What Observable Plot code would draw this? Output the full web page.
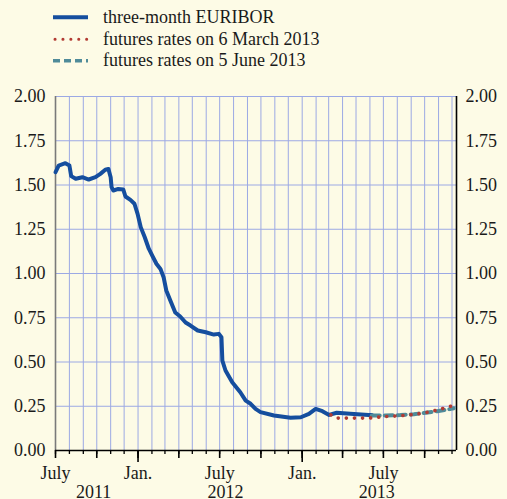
<!DOCTYPE html>
<html><head><meta charset="utf-8">
<script src="https://cdn.jsdelivr.net/npm/d3@7"></script>
<script src="https://cdn.jsdelivr.net/npm/@observablehq/plot@0.6"></script>
<style>
html,body{margin:0;padding:0;background:#fdfbe6;}
body{width:507px;height:499px;overflow:hidden;}
svg{display:block;}
</style>
</head><body>
<div id="legend"></div>
<div id="chart"></div>
<script>
// ---- data ----
const euriborDates = ["2011-07-01","2011-07-08","2011-07-23","2011-08-01","2011-08-05","2011-08-15","2011-08-30","2011-09-13","2011-09-28","2011-10-09","2011-10-20","2011-10-27","2011-11-01","2011-11-03","2011-11-07","2011-11-18","2011-11-29","2011-12-04","2011-12-15","2011-12-24","2011-12-31","2012-01-07","2012-01-16","2012-01-25","2012-02-02","2012-02-11","2012-02-20","2012-02-27","2012-03-04","2012-03-13","2012-03-24","2012-04-04","2012-04-16","2012-04-27","2012-05-13","2012-05-31","2012-06-18","2012-06-29","2012-07-05","2012-07-07","2012-07-14","2012-07-29","2012-08-16","2012-08-28","2012-09-08","2012-09-19","2012-09-30","2012-10-30","2012-12-06","2012-12-29","2013-01-16","2013-01-31","2013-02-15","2013-03-02","2013-03-19","2013-04-18","2013-05-29","2013-06-05"];
const euriborValues = [1.572,1.61,1.623,1.61,1.55,1.535,1.544,1.531,1.544,1.563,1.586,1.59,1.544,1.488,1.469,1.478,1.475,1.435,1.416,1.394,1.337,1.262,1.205,1.14,1.10,1.055,1.026,0.979,0.904,0.847,0.78,0.757,0.723,0.706,0.678,0.668,0.655,0.659,0.64,0.508,0.452,0.385,0.329,0.282,0.264,0.235,0.217,0.198,0.185,0.188,0.207,0.235,0.222,0.201,0.213,0.207,0.201,0.20];

const marchDates = ["2013-03-06","2013-03-19","2013-04-06","2013-04-23","2013-05-11","2013-05-29","2013-06-17","2013-07-06","2013-08-08","2013-08-27","2013-09-15","2013-10-02","2013-10-18","2013-11-04","2013-11-21","2013-12-04"];
const marchValues = [0.201,0.183,0.183,0.183,0.183,0.183,0.188,0.192,0.196,0.201,0.207,0.213,0.222,0.232,0.245,0.254];

const juneDates = ["2013-06-05","2013-07-06","2013-08-08","2013-09-07","2013-10-03","2013-10-29","2013-11-28","2013-12-05"];
const juneValues = [0.198,0.198,0.200,0.205,0.213,0.222,0.235,0.239];

const seriesNames = ["three-month EURIBOR","futures rates on 6 March 2013","futures rates on 5 June 2013"];
const yTicks = [0,0.25,0.5,0.75,1,1.25,1.5,1.75,2];
const monthLabelDates = ["2011-07-01","2012-01-01","2012-07-01","2013-01-01","2013-07-01"];
const monthLabelTexts = ["July","Jan.","July","Jan.","July"];
const yearLabelDates = ["2011-09-24","2012-07-14","2013-06-16"];
const yearLabelTexts = ["2011","2012","2013"];

// ---- styles ----
const BLUE = "#154e9e", RED = "#b23a32", TEAL = "#4f8b99", GRID = "#9ca9e4", TXT = "#1a1a1a";
const FONT = "Liberation Serif, Times New Roman, serif";

const parse = d3.utcParse("%Y-%m-%d");
const mk = (ds, vs) => ds.map((d, i) => ({date: parse(d), value: vs[i]}));
const euribor = mk(euriborDates, euriborValues);
const march = mk(marchDates, marchValues);
const june = mk(juneDates, juneValues);
const monthLabels = monthLabelDates.map((d, i) => ({date: parse(d), text: monthLabelTexts[i]}));
const yearLabels = yearLabelDates.map((d, i) => ({date: parse(d), text: yearLabelTexts[i]}));

const start = parse("2011-07-01"), end = parse("2013-12-11");
const months = d3.utcMonth.range(start, end);
const quarters = months.filter(d => d.getUTCMonth() % 3 === 0);
const jans = months.filter(d => d.getUTCMonth() === 0);

// ---- legend ----
const leg = d3.select("#legend").append("svg").attr("width", 507).attr("height", 80);
const legY = [17.3, 39.3, 60.7];
leg.append("line").attr("x1",53).attr("x2",88).attr("y1",legY[0]).attr("y2",legY[0]).attr("stroke",BLUE).attr("stroke-width",4);
leg.append("line").attr("x1",55).attr("x2",88).attr("y1",legY[1]).attr("y2",legY[1]).attr("stroke",RED).attr("stroke-width",3).attr("stroke-linecap","round").attr("stroke-dasharray","0.1 7.8");
leg.append("line").attr("x1",53).attr("x2",88).attr("y1",legY[2]).attr("y2",legY[2]).attr("stroke",TEAL).attr("stroke-width",3.5).attr("stroke-dasharray","7 4");
seriesNames.forEach((n, i) => {
  leg.append("text").attr("x",103).attr("y",legY[i]+5.5).attr("font-family",FONT).attr("font-size",18).attr("fill",TXT).text(n);
});

// ---- chart ----
const chart = Plot.plot({
  width: 507, height: 419,
  marginTop: 16, marginBottom: 49, marginLeft: 55, marginRight: 51,
  style: {background: "transparent", fontFamily: FONT, fontSize: "18px", color: TXT, overflow: "visible"},
  x: {type: "utc", domain: [start, end], label: null},
  y: {domain: [0, 2], label: null},
  marks: [
    Plot.gridX(months.slice(1), {stroke: GRID, strokeOpacity: 1, strokeWidth: 1}),
    Plot.gridY(yTicks, {stroke: GRID, strokeOpacity: 1, strokeWidth: 1}),
    Plot.axisX({ticks: months, tickSize: 4, tickFormat: () => "", label: null, stroke: "#000", strokeWidth: 1.3}),
    Plot.axisX({ticks: quarters, tickSize: 8, tickFormat: () => "", label: null, stroke: "#000", strokeWidth: 1.6}),
    Plot.axisX({ticks: jans, tickSize: 12, tickFormat: () => "", label: null, stroke: "#000", strokeWidth: 1.6}),
    Plot.ruleX([start], {stroke: "#7a7a7a", strokeWidth: 1.6}),
    Plot.ruleX([end], {stroke: "#000", strokeWidth: 1.6}),
    Plot.ruleY([0], {stroke: "#000", strokeWidth: 1.5}),
    Plot.line(euribor, {x: "date", y: "value", stroke: BLUE, strokeWidth: 4, strokeLinejoin: "round", strokeLinecap: "round"}),
    Plot.line(june, {x: "date", y: "value", stroke: TEAL, strokeWidth: 4, strokeDasharray: "8 5"}),
    Plot.line(march, {x: "date", y: "value", stroke: RED, strokeWidth: 3.6, strokeDasharray: "0.1 8", strokeLinecap: "round"}),
    Plot.axisY({anchor: "left", ticks: yTicks, tickSize: 0, tickPadding: 10, tickFormat: d3.format(".2f"), label: null, fontSize: 18, fill: TXT}),
    Plot.axisY({anchor: "right", ticks: yTicks, tickSize: 0, tickPadding: 9, tickFormat: d3.format(".2f"), label: null, fontSize: 18, fill: TXT}),
    Plot.text(monthLabels, {x: "date", text: "text", frameAnchor: "bottom", dy: 28, lineAnchor: "bottom", fontSize: 18, fill: TXT}),
    Plot.text(yearLabels, {x: "date", text: "text", frameAnchor: "bottom", dy: 47, lineAnchor: "bottom", fontSize: 18, fill: TXT})
  ]
});
document.getElementById("chart").appendChild(chart);
</script>
</body></html>
